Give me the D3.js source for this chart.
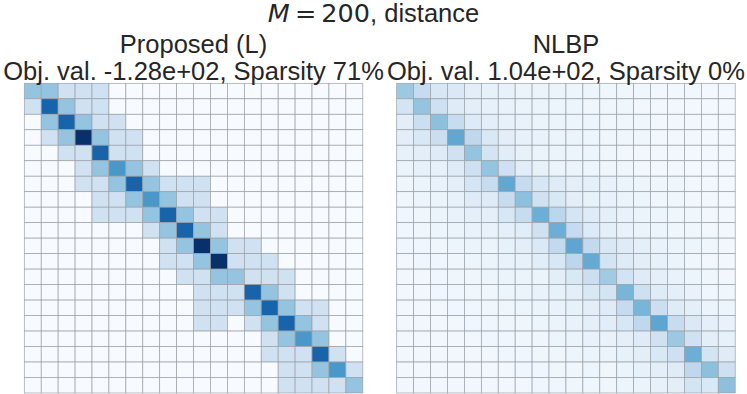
<!DOCTYPE html>
<html>
<head>
<meta charset="utf-8">
<script src="https://cdn.jsdelivr.net/npm/d3@7"></script>
<style>
  body { margin: 0; background: #fff; }
  text { font-family: "Liberation Sans", Arial, sans-serif; fill: #262626; }
</style>
</head>
<body>
<svg id="chart" width="747" height="394"></svg>
<script>
/* Data */

const suptitle = 'distance';
const mValue = 200;

const leftTitle = 'Proposed (L)';
const leftSub = 'Obj. val. -1.28e+02, Sparsity 71%';
const rightTitle = 'NLBP';
const rightSub = 'Obj. val. 1.04e+02, Sparsity 0%';

const indices = d3.range(20);

// Proposed (L) plan (colour levels)
const proposed = [
  [2,2,1,1,1,0,0,0,0,0,0,0,0,0,0,0,0,0,0,0],
  [1,4,2,1,1,0,0,0,0,0,0,0,0,0,0,0,0,0,0,0],
  [0,2,4,2,1,1,0,0,0,0,0,0,0,0,0,0,0,0,0,0],
  [0,1,2,5,2,1,1,0,0,0,0,0,0,0,0,0,0,0,0,0],
  [0,0,1,1,4,1,1,0,0,0,0,0,0,0,0,0,0,0,0,0],
  [0,0,0,1,2,3,2,1,0,0,0,0,0,0,0,0,0,0,0,0],
  [0,0,0,1,1,2,4,2,1,1,1,0,0,0,0,0,0,0,0,0],
  [0,0,0,0,1,1,2,3,2,1,1,0,0,0,0,0,0,0,0,0],
  [0,0,0,0,1,1,1,2,4,2,1,1,0,0,0,0,0,0,0,0],
  [0,0,0,0,0,0,0,1,2,4,2,1,0,0,0,0,0,0,0,0],
  [0,0,0,0,0,0,0,0,1,2,5,2,1,1,0,0,0,0,0,0],
  [0,0,0,0,0,0,0,0,1,1,2,5,1,1,1,0,0,0,0,0],
  [0,0,0,0,0,0,0,0,0,1,1,2,2,1,1,1,0,0,0,0],
  [0,0,0,0,0,0,0,0,0,0,1,1,1,4,2,1,0,0,0,0],
  [0,0,0,0,0,0,0,0,0,0,1,1,1,2,4,2,1,1,0,0],
  [0,0,0,0,0,0,0,0,0,0,1,1,0,1,2,4,2,1,0,0],
  [0,0,0,0,0,0,0,0,0,0,0,0,0,0,1,2,3,2,0,0],
  [0,0,0,0,0,0,0,0,0,0,0,0,0,0,1,1,1,4,1,0],
  [0,0,0,0,0,0,0,0,0,0,0,0,0,0,0,1,1,2,3,1],
  [0,0,0,0,0,0,0,0,0,0,0,0,0,0,0,1,1,1,1,2]
];

// NLBP plan, estimated from the picture on the same colour scale
const nlbp = [
  [1.9,1.25,0.8,0.7,0.5,0.4,0.4,0.3,0.3,0.3,0.25,0.25,0.2,0.2,0.2,0.15,0.15,0.15,0.12,0.12],
  [0.9,2.0,1.05,0.6,0.5,0.4,0.35,0.3,0.3,0.25,0.25,0.2,0.2,0.2,0.15,0.15,0.15,0.12,0.12,0.12],
  [0.5,1.1,2.1,1.2,0.65,0.5,0.4,0.35,0.3,0.3,0.25,0.25,0.2,0.2,0.2,0.15,0.15,0.15,0.12,0.12],
  [0.5,0.75,1.15,2.65,1.35,0.75,0.5,0.4,0.35,0.3,0.3,0.25,0.2,0.2,0.2,0.15,0.15,0.15,0.12,0.12],
  [0.4,0.5,0.6,1.0,2.0,0.9,0.55,0.4,0.3,0.3,0.25,0.25,0.2,0.15,0.15,0.15,0.15,0.12,0.12,0.12],
  [0.3,0.4,0.4,0.6,1.05,2.0,1.05,0.55,0.4,0.3,0.3,0.25,0.2,0.2,0.15,0.15,0.15,0.12,0.12,0.12],
  [0.2,0.3,0.35,0.5,0.85,1.2,2.65,1.25,0.8,0.6,0.5,0.45,0.35,0.3,0.25,0.2,0.2,0.15,0.15,0.12],
  [0.2,0.25,0.3,0.4,0.6,0.6,1.2,2.1,1.0,0.75,0.5,0.4,0.35,0.3,0.25,0.2,0.2,0.15,0.15,0.12],
  [0.18,0.2,0.3,0.35,0.45,0.45,0.8,1.2,2.5,1.4,0.85,0.6,0.45,0.35,0.3,0.25,0.2,0.2,0.15,0.15],
  [0.18,0.2,0.25,0.3,0.35,0.35,0.45,0.55,1.0,2.5,1.25,0.65,0.45,0.35,0.3,0.25,0.2,0.2,0.15,0.15],
  [0.18,0.18,0.2,0.25,0.3,0.3,0.4,0.5,0.7,1.3,2.7,1.3,0.75,0.6,0.45,0.35,0.3,0.25,0.2,0.15],
  [0.15,0.18,0.18,0.2,0.25,0.3,0.35,0.4,0.55,0.8,1.4,2.6,0.9,0.6,0.5,0.4,0.3,0.2,0.15,0.15],
  [0.15,0.15,0.18,0.2,0.2,0.25,0.3,0.3,0.3,0.5,0.75,1.1,1.85,0.95,0.6,0.45,0.35,0.25,0.2,0.15],
  [0.15,0.15,0.18,0.18,0.2,0.2,0.25,0.3,0.35,0.4,0.5,0.75,0.9,2.35,1.05,0.6,0.45,0.35,0.2,0.2],
  [0.15,0.15,0.15,0.18,0.18,0.2,0.2,0.25,0.3,0.35,0.4,0.5,0.6,1.25,2.35,1.1,0.6,0.45,0.3,0.25],
  [0.15,0.15,0.15,0.15,0.18,0.18,0.2,0.2,0.25,0.3,0.35,0.45,0.55,0.8,1.35,2.7,1.2,0.7,0.45,0.35],
  [0.15,0.15,0.15,0.15,0.15,0.18,0.18,0.2,0.2,0.25,0.3,0.35,0.35,0.45,0.6,1.0,1.9,1.0,0.5,0.4],
  [0.15,0.15,0.15,0.15,0.15,0.15,0.18,0.18,0.2,0.2,0.25,0.3,0.3,0.4,0.5,0.75,1.05,2.5,0.9,0.6],
  [0.15,0.15,0.15,0.15,0.15,0.15,0.15,0.18,0.18,0.2,0.2,0.25,0.2,0.3,0.4,0.5,0.6,1.35,2.1,1.05],
  [0.15,0.15,0.15,0.15,0.15,0.15,0.15,0.15,0.18,0.18,0.2,0.2,0.2,0.25,0.3,0.4,0.5,0.9,0.75,2.1]
];

// matplotlib "Blues" stops
const blues = ['#f7fbff','#deebf7','#c6dbef','#9ecae1','#6baed6','#4292c6','#2171b5','#08519c','#08306b'];
const vmax = 5;

/* Layout */

const svg = d3.select('#chart');
const fontSize = '25.5px';
const panelW = 338.5, panelH = 309.7, panelTop = 83.3;
const panels = [
  { x0: 24.3, data: proposed, title: leftTitle, sub: leftSub },
  { x0: 396.7, data: nlbp, title: rightTitle, sub: rightSub }
];

const color = d3.scaleLinear()
  .domain(blues.map((_, i) => i * vmax / (blues.length - 1)))
  .range(blues)
  .clamp(true);

const x = d3.scaleBand().domain(indices).range([0, panelW]);
const y = d3.scaleBand().domain(indices).range([0, panelH]);

/* Suptitle: mathtext part in DejaVu, rest in the text font */

const sup = svg.append('text')
  .attr('x', 373.5).attr('y', 22)
  .attr('text-anchor', 'middle')
  .style('font-size', fontSize);
sup.append('tspan')
  .style('font-family', '"DejaVu Sans"')
  .style('font-style', 'italic')
  .text('M');
sup.append('tspan')
  .style('font-family', '"DejaVu Sans"')
  .text(`\u2009=\u2009${mValue}`);
sup.append('tspan').text(`, ${suptitle}`);

/* Panels */

panels.forEach(p => {
  const g = svg.append('g').attr('transform', `translate(${p.x0},${panelTop})`);

  const cells = p.data.flatMap((row, i) => row.map((v, j) => ({ i, j, v })));

  g.selectAll('rect')
    .data(cells)
    .join('rect')
    .attr('x', d => x(d.j))
    .attr('y', d => y(d.i))
    .attr('width', x.bandwidth())
    .attr('height', y.bandwidth())
    .attr('fill', d => color(d.v))
    .attr('stroke', '#9aa1a8')
    .attr('stroke-width', 0.7);

  const cx = p.x0 + panelW / 2;
  svg.append('text')
    .attr('x', cx).attr('y', 53)
    .attr('text-anchor', 'middle')
    .style('font-size', fontSize)
    .text(p.title);
  svg.append('text')
    .attr('x', cx).attr('y', 80)
    .attr('text-anchor', 'middle')
    .style('font-size', fontSize)
    .text(p.sub);
});
</script>
</body>
</html>
